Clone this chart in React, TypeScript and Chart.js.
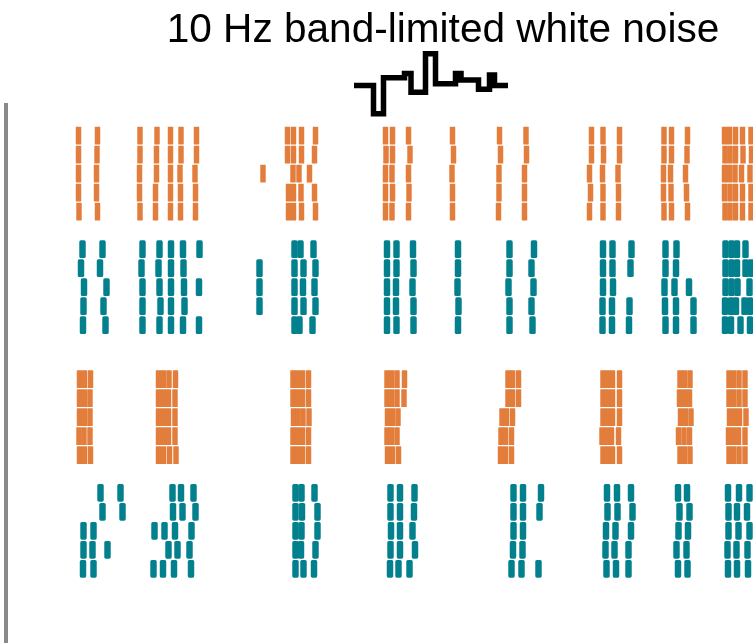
import { useEffect, useRef } from 'react';
import { Chart, registerables } from 'chart.js';

Chart.register(...registerables);

// Spike times (ms) per trial, four blocks of five trials
const orangeA: number[][] = [
  [72.5, 91.5, 134, 151, 164.5, 175, 190.5, 281.5, 287.5, 295.5, 309.5, 379.5, 386.5, 402.5, 446.5, 493.5, 520, 585.5, 597, 613.5, 658, 665.5, 681.5, 718.5, 723.5, 729.5, 736.5, 745],
  [72.5, 91, 134, 150.5, 164.5, 175, 190.5, 281.5, 287.5, 295.5, 308.5, 380, 386.5, 404, 447.5, 494.5, 520.5, 585.5, 597.5, 613.5, 658, 665.5, 681, 719, 724, 729.5, 737, 745.5],
  [72.5, 90.5, 133.5, 150.5, 164.5, 174, 189, 257, 287, 293, 303.5, 379.5, 386, 402.5, 446, 493, 518.5, 583.5, 596.5, 612, 657.5, 664.5, 679.5, 718.5, 723.5, 729, 735.5, 744],
  [72.5, 90.5, 133.5, 149.5, 164.5, 174.5, 189.5, 282.5, 287.5, 295, 308.5, 379.5, 386.5, 403, 446.5, 493, 518.5, 584.5, 597, 612.5, 657.5, 665, 680.5, 718.5, 724, 729.5, 736.5, 745],
  [73, 91.5, 134, 149.5, 164.5, 174.5, 189.5, 282.5, 287.5, 295.5, 309.5, 379.5, 386, 402.5, 446.5, 492.5, 518.5, 583.5, 597, 612.5, 658, 665.5, 681.5, 719, 724, 729.5, 736.5, 745],
];

const tealA: number[][] = [
  [76.5, 96.5, 136.5, 153.5, 165, 177, 193.5, 288.5, 294.5, 307.5, 381, 390.5, 407, 452, 503.5, 528, 597, 606.5, 625.5, 659.5, 670.5, 719.5, 725.5, 731, 739.5],
  [75, 94, 135.5, 152.5, 165, 177.5, 253.5, 288.5, 297.5, 309.5, 381, 390.5, 407.5, 452, 503.5, 525.5, 597, 606.5, 624.5, 659.5, 670, 719.5, 725.5, 731, 739.5, 745],
  [78, 100.5, 136.5, 153.5, 165, 178, 193, 253.5, 288.5, 297, 308.5, 381, 390, 406.5, 451.5, 502.5, 527.5, 597, 607, 658.5, 668.5, 683, 719.5, 725.5, 731.5, 743.5],
  [77.5, 97.5, 136.5, 154.5, 165, 178.5, 253.5, 288.5, 297.5, 309.5, 381, 390, 407.5, 452.5, 503.5, 525.5, 596.5, 606, 623.5, 659, 670, 687.5, 719, 725, 730, 738.5, 744],
  [77, 99.5, 136.5, 153.5, 165, 177, 193, 288.5, 293.5, 306.5, 381, 390.5, 407.5, 452, 503.5, 526.5, 596.5, 606, 623, 659.5, 670, 687.5, 719, 725, 734.5, 744],
];

const orangeB: number[][] = [
  [73.5, 78.5, 84.5, 152.5, 157.5, 163, 169.5, 287, 291.5, 296.5, 302.5, 381, 385.5, 391, 398.5, 502, 506.5, 512.5, 597, 601.5, 606.5, 613.5, 674, 678.5, 684, 723, 727.5, 733, 739],
  [73.5, 78.5, 84, 152.5, 157.5, 162.5, 169, 287, 291.5, 296.5, 302.5, 381, 385.5, 391, 398, 502, 506.5, 512.5, 597, 601.5, 606.5, 613.5, 673.5, 678.5, 683.5, 723, 727.5, 733, 739],
  [73.5, 78.5, 84, 152.5, 157.5, 162.5, 169, 287.5, 292, 297, 303, 381.5, 386.5, 392, 496, 500.5, 506.5, 597, 601.5, 606.5, 613.5, 674.5, 679.5, 685, 723.5, 728.5, 733.5, 740],
  [73, 78, 84, 152.5, 157.5, 162.5, 169, 287, 291.5, 296.5, 302.5, 381, 385.5, 391, 495, 499.5, 505.5, 596, 600.5, 605.5, 612.5, 672.5, 678, 683.5, 722.5, 727.5, 732.5, 739],
  [73.5, 78.5, 84.5, 152.5, 157.5, 163.5, 170, 287, 291.5, 296.5, 302.5, 381.5, 386.5, 392.5, 494.5, 499.5, 505.5, 597, 601.5, 606.5, 613.5, 674, 678.5, 684, 723, 727.5, 733, 739],
];

const tealB: number[][] = [
  [94.5, 114.5, 166.5, 175, 187.5, 289.5, 295.5, 308.5, 384.5, 394, 408.5, 507.5, 517, 535, 601, 611, 625, 672, 681, 722, 733, 743.5],
  [96.5, 116.5, 167, 176.5, 189.5, 289.5, 296, 311.5, 384.5, 394, 408, 507.5, 517, 533.5, 601.5, 611.5, 626.5, 673.5, 683.5, 722.5, 731, 741],
  [77.5, 87.5, 148.5, 158.5, 169, 185.5, 289.5, 295.5, 311.5, 385, 394, 406.5, 507.5, 517, 600, 609.5, 625, 672.5, 682, 722.5, 732.5, 743.5],
  [77.5, 86.5, 101.5, 162.5, 171.5, 183.5, 289.5, 295, 309.5, 384.5, 394, 409, 507, 516.5, 599.5, 608.5, 622.5, 670.5, 680.5, 721.5, 730.5, 741.5],
  [77, 87.5, 147.5, 157, 168, 185, 289.5, 297.5, 308, 384, 392.5, 403.5, 505.5, 515.5, 532.5, 600.5, 610, 622.5, 672, 681.5, 722, 731, 742],
];

// Trial offsets of each block on the trial axis
const blockOffsets = [0, 5.98, 12.82, 18.8];

// Stimulus: step times (ms) and amplitude
const stimTimes = [348, 367.5, 377.5, 398.5, 405, 419.5, 429.5, 449.5, 455, 472.5, 483.5, 488.5, 502];
const stimValues = [-0.02, -0.96, 0.24, 0.38, -0.24, 1.04, 0.04, 0.38, 0.17, -0.14, 0.33, -0.02, -0.02];

const TITLE = '10 Hz band-limited white noise';
const ORANGE = '#E27D3B';
const TEAL = '#03808E';

const W = 886;
const H = 700;

function spikeData(trials: number[][], offset: number) {
  const out: { x: number; y: [number, number] }[] = [];
  trials.forEach((times, i) => {
    const row = offset + i;
    times.forEach((t) => out.push({ x: t, y: [row - 0.45, row + 0.45] }));
  });
  return out;
}

export default function App() {
  const ref = useRef<HTMLCanvasElement | null>(null);

  useEffect(() => {
    if (!ref.current) return;
    const blocks = [orangeA, tealA, orangeB, tealB];
    const colors = [ORANGE, TEAL, ORANGE, TEAL];
    const datasets: any[] = blocks.map((b, k) => ({
      type: 'bar',
      data: spikeData(b, blockOffsets[k]),
      backgroundColor: colors[k],
      borderWidth: 0,
      borderSkipped: false,
      borderRadius: colors[k] === TEAL ? 1.6 : 0.4,
      barThickness: colors[k] === TEAL ? 5.8 : 4.8,
      grouped: false,
      xAxisID: 'x',
      yAxisID: 'y',
    }));
    datasets.push({
      type: 'line',
      data: stimTimes.map((t, i) => ({ x: t, y: stimValues[i] })),
      borderColor: '#000',
      borderWidth: 5.5,
      borderJoinStyle: 'miter',
      borderCapStyle: 'butt',
      stepped: true,
      pointRadius: 0,
      fill: false,
      clip: false,
      xAxisID: 'x',
      yAxisID: 'ys',
    });

    const chartTop = 105;
    const chartBottom = H - 10;
    const areaH = chartBottom - chartTop;
    const rowPx = 19;
    const firstRowPx = 135.6;
    const yMin = (chartTop - firstRowPx) / rowPx;
    const yMax = (chartBottom - firstRowPx) / rowPx;
    const stimPx = 30;
    const stimR = areaH / stimPx;
    const stimMin = -stimR * (chartBottom - 85) / areaH;
    const titlePadTop = 6;

    const chart = new Chart(ref.current, {
      type: 'bar',
      data: { datasets },
      options: {
        animation: false,
        responsive: false,
        events: [],
        layout: { padding: { left: 6, right: 6, top: 0, bottom: 10 } },
        plugins: {
          legend: { display: false },
          tooltip: { enabled: false },
          title: {
            display: true,
            text: TITLE,
            color: '#000',
            font: { family: "'Liberation Sans', Arial, sans-serif", size: 40.6, weight: 'normal', lineHeight: 1.2 },
            padding: { top: titlePadTop, bottom: chartTop - titlePadTop - 40.6 * 1.2 },
          },
        },
        scales: {
          x: {
            type: 'linear',
            display: false,
            offset: false,
            min: 0,
            max: W - 12,
            grid: { display: false },
          },
          y: {
            type: 'linear',
            reverse: true,
            min: yMin,
            max: yMax,
            grid: { display: false },
            ticks: { display: false },
            border: { display: true, color: '#8a8a8a', width: 4 },
            afterFit: (s: any) => { s.width = 0; },
          },
          ys: {
            type: 'linear',
            display: false,
            min: stimMin,
            max: stimMin + stimR,
          },
        },
      } as any,
    });
    return () => chart.destroy();
  }, []);

  return (
    <div style={{ position: 'fixed', left: 0, top: 0, width: 753, height: 643, overflow: 'hidden', background: '#fff' }}>
      <canvas ref={ref} width={W} height={H} style={{ display: 'block', width: W, height: H }} />
    </div>
  );
}
